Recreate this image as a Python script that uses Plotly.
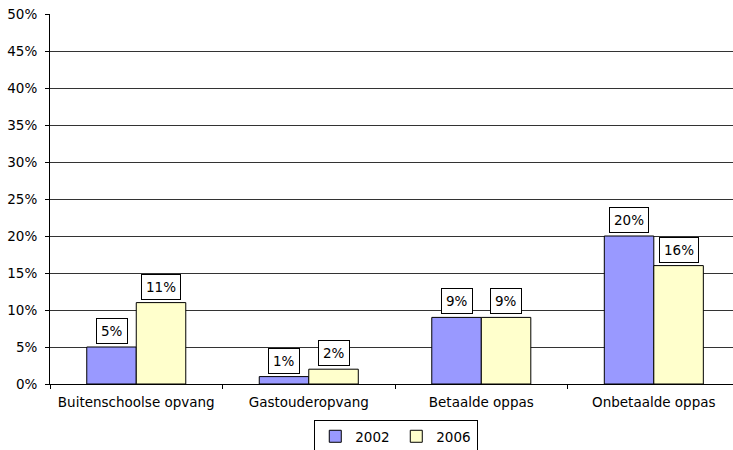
import plotly.graph_objects as go

categories = ["Buitenschoolse opvang", "Gastouderopvang", "Betaalde oppas", "Onbetaalde oppas"]
values_2002 = [5, 1, 9, 20]
values_2006 = [11, 2, 9, 16]
series_names = ["2002", "2006"]
tick_vals = [0, 5, 10, 15, 20, 25, 30, 35, 40, 45, 50]
tick_text = [f"{v}%" for v in tick_vals]

colors = ["#9999FF", "#FFFFCC"]
font_family = "DejaVu Sans, Verdana, sans-serif"
fs = 13.5
bargap = 0.426

fig = go.Figure()
for name, vals, col in zip(series_names, [values_2002, values_2006], colors):
    fig.add_trace(go.Bar(
        x=categories, y=vals, name=name,
        marker=dict(color=col, line=dict(color="black", width=1)),
    ))

half = (1 - bargap) / 4
annotations = []
for s, vals in enumerate([values_2002, values_2006]):
    off = -half if s == 0 else half
    for i, v in enumerate(vals):
        annotations.append(dict(
            x=i + off, y=v, xref="x", yref="y", text=f"{v}%",
            showarrow=False, yanchor="bottom", yshift=3,
            font=dict(family=font_family, size=fs, color="black"),
            bgcolor="white", bordercolor="black", borderwidth=1, borderpad=4,
        ))

fig.update_layout(
    width=733, height=450,
    margin=dict(l=50, r=0, t=14, b=66),
    paper_bgcolor="white", plot_bgcolor="white",
    barmode="group", bargap=bargap, bargroupgap=0,
    font=dict(family=font_family, size=fs, color="black"),
    showlegend=True,
    legend=dict(
        orientation="h", x=0.507, xanchor="center",
        yref="container", y=0.03, yanchor="middle",
        bordercolor="black", borderwidth=1, bgcolor="white",
        font=dict(size=fs), itemwidth=30, tracegroupgap=0,
        entrywidth=36, entrywidthmode="pixels",
    ),
    annotations=annotations,
    xaxis=dict(
        range=[-0.5, 3.459], showline=True, linecolor="black", linewidth=1,
        ticks="outside", tickson="boundaries", ticklen=4, tickcolor="black",
        showgrid=False, tickfont=dict(size=fs), automargin=False,
        ticklabelstandoff=6,
    ),
    yaxis=dict(
        range=[0, 50], tickvals=tick_vals, ticktext=tick_text,
        showline=True, linecolor="black", linewidth=1,
        ticks="outside", ticklen=4, tickcolor="black",
        showgrid=True, gridcolor="#333333", gridwidth=1,
        zeroline=False, tickfont=dict(size=fs), automargin=False,
        ticklabelstandoff=5,
    ),
)

fig.write_html("out.html", config={"displayModeBar": False},
               post_script="document.body.style.margin='0';")
